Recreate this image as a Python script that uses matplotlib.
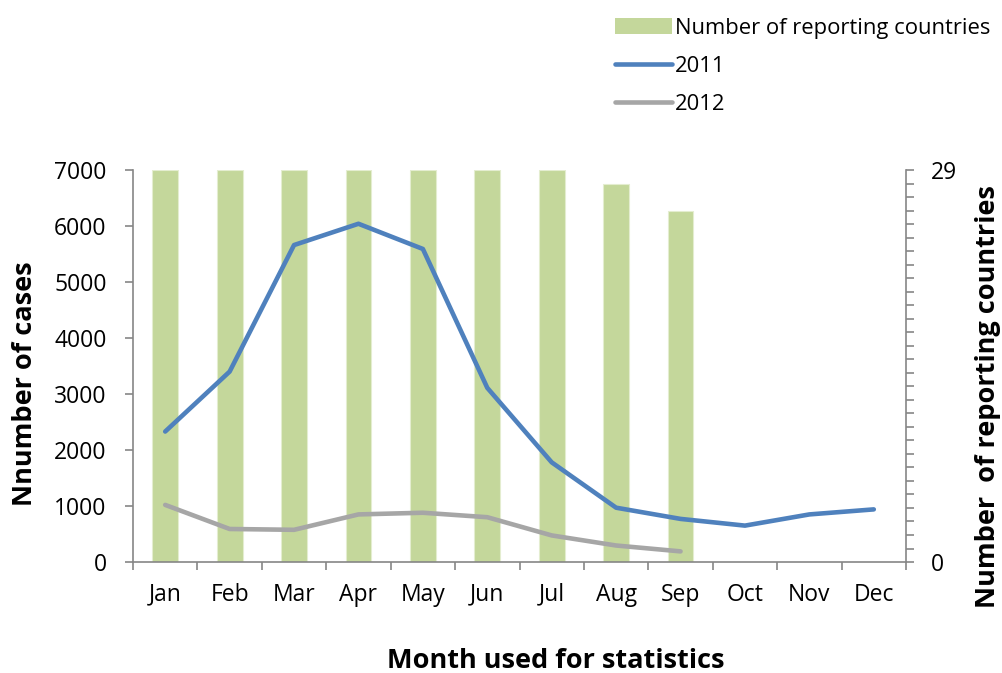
import matplotlib.pyplot as plt
import matplotlib.ticker as mticker
from matplotlib.patches import Patch
from matplotlib.lines import Line2D

plt.rcParams['font.family'] = ['Open Sans', 'DejaVu Sans']

months = ['Jan', 'Feb', 'Mar', 'Apr', 'May', 'Jun',
          'Jul', 'Aug', 'Sep', 'Oct', 'Nov', 'Dec']
countries = [29, 29, 29, 29, 29, 29, 29, 28, 26]
cases_2011 = [2330, 3400, 5660, 6040, 5590, 3110, 1780, 970, 770, 650, 850, 940]
cases_2012 = [1020, 590, 575, 850, 880, 800, 475, 295, 190]

bar_col = '#C4D79B'
blue = '#4F81BD'
grey = '#A6A6A6'
axis_col = '#868686'

fig = plt.figure(figsize=(10.03, 6.73), dpi=100)
ax = fig.add_axes([0.1326, 0.1649, 0.7707, 0.5825])
ax2 = ax.twinx()

# bars on the secondary axis, drawn behind the lines
ax2.bar(range(len(countries)), countries, width=0.4, color=bar_col,
        edgecolor='#E4EDD0', linewidth=0.8)
ax2.set_ylim(0, 29)
ax2.set_zorder(0)
ax.set_zorder(1)
ax.patch.set_visible(False)

ax.plot(range(len(cases_2011)), cases_2011, color=blue, lw=3.3,
        solid_capstyle='round', solid_joinstyle='round')
ax.plot(range(len(cases_2012)), cases_2012, color=grey, lw=3.3,
        solid_capstyle='round', solid_joinstyle='round')

ax.set_xlim(-0.5, 11.5)
ax.set_ylim(0, 7000)
ax.set_yticks(range(0, 7001, 1000))
ax.set_xticks(range(12))
ax.set_xticklabels(months)
ax.xaxis.set_minor_locator(mticker.FixedLocator([i - 0.5 for i in range(13)]))
ax.tick_params(axis='x', which='major', length=0, pad=15, labelsize=16.5)
ax.tick_params(axis='x', which='minor', length=6, width=1.2, color=axis_col,
               direction='out')
ax.tick_params(axis='y', length=6, width=1.2, color=axis_col, direction='out',
               labelsize=16.5, pad=13)

ax2.set_yticks([0, 29])
ax2.yaxis.set_minor_locator(mticker.MultipleLocator(1))
ax2.tick_params(axis='y', which='both', length=6, width=1.2, color=axis_col,
                direction='out', labelsize=16.5, pad=12)

for a in (ax, ax2):
    for s in a.spines.values():
        s.set_visible(False)
ax.spines['left'].set_visible(True)
ax.spines['bottom'].set_visible(True)
ax2.spines['right'].set_visible(True)
for s in (ax.spines['left'], ax.spines['bottom'], ax2.spines['right']):
    s.set_color(axis_col)
    s.set_linewidth(1.2)

fig.text(25 / 1003, 1 - 384 / 673, 'Nnumber of cases', rotation=90,
         fontsize=19.5, fontweight='bold', ha='center', va='center')
fig.text(988 / 1003, 1 - 397 / 673, 'Number  of reporting countries',
         rotation=90, fontsize=19.5, fontweight='bold', ha='center',
         va='center')
fig.text(556 / 1003, 1 - 661 / 673, 'Month used for statistics',
         fontsize=19.5, fontweight='bold', ha='center', va='center')

handles = [Patch(facecolor=bar_col, edgecolor='none'),
           Line2D([], [], color=blue, lw=3.3, solid_capstyle='round'),
           Line2D([], [], color=grey, lw=3.3, solid_capstyle='round')]
labels = ['Number of reporting countries', '2011', '2012']
fig.legend(handles, labels, loc='upper left',
           bbox_to_anchor=(606 / 1003, 1 - 9 / 673), frameon=False,
           fontsize=15.8, handlelength=2.6, handletextpad=0.15,
           labelspacing=0.78, borderaxespad=0)

fig.savefig('out.png', dpi=100)
